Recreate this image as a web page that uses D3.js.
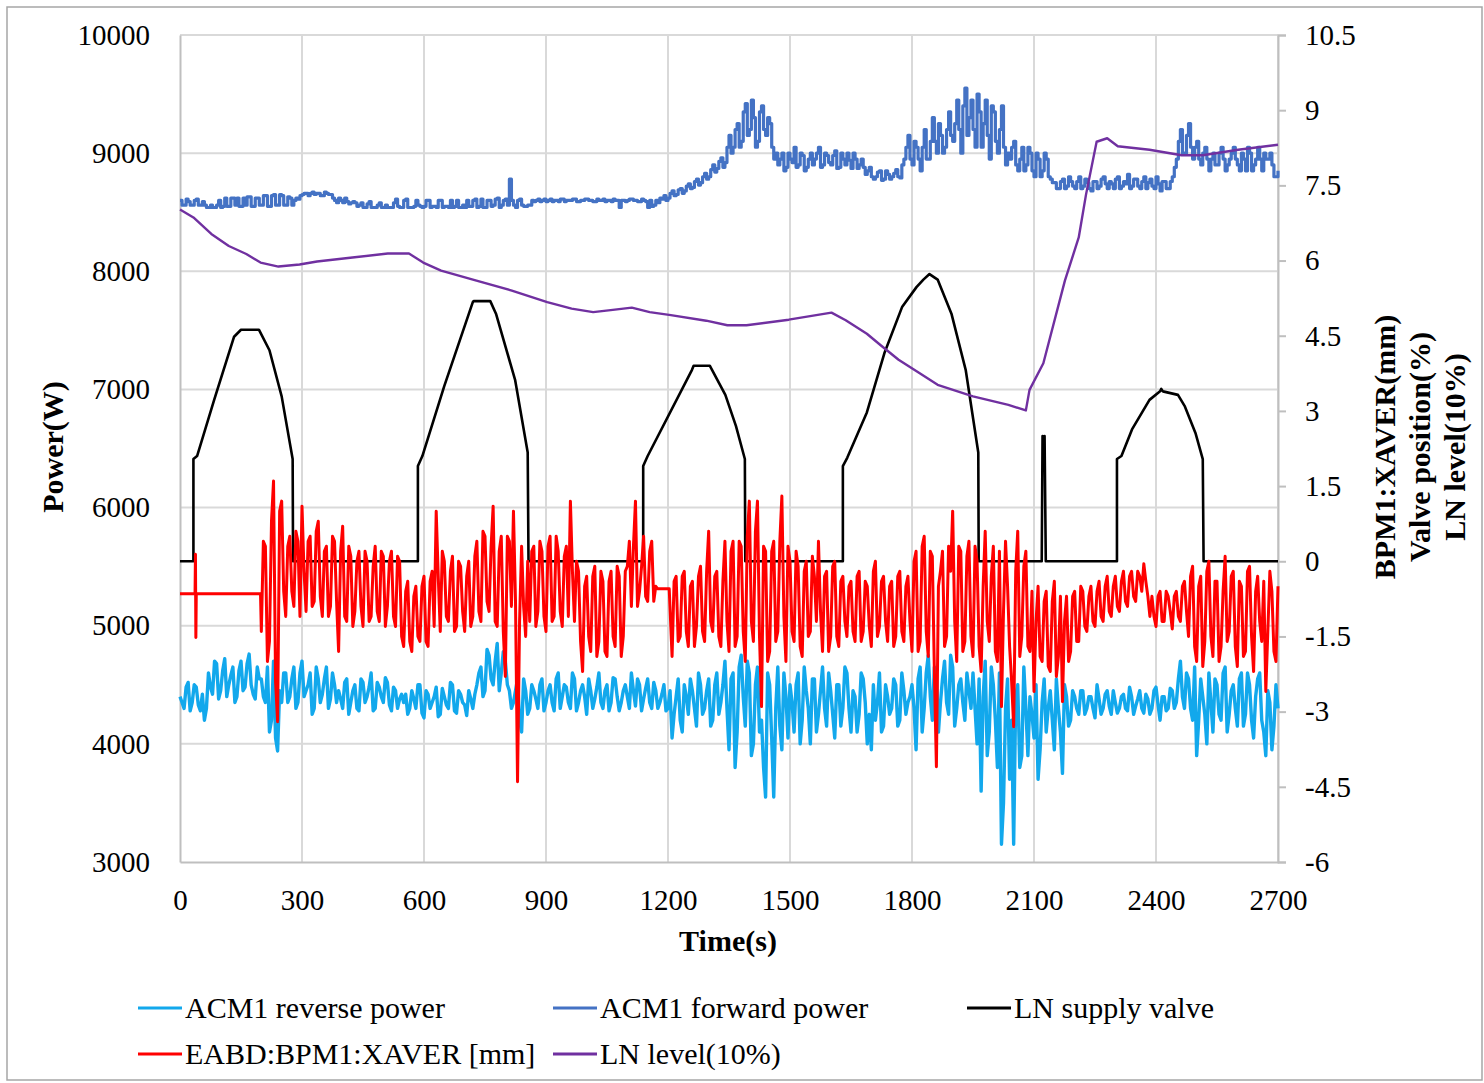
<!DOCTYPE html>
<html>
<head>
<meta charset="utf-8">
<script src="https://cdn.jsdelivr.net/npm/d3@7/dist/d3.min.js"></script>
<style>
  html, body { margin:0; padding:0; background:#fff; }
  svg { display:block; }
  text { font-family: "Liberation Serif", "Times New Roman", serif; fill:#000; }
</style>
</head>
<body>
<svg id="chart" width="1484" height="1083"></svg>
<script>
// ---------------- DATA ----------------
const timeStep = 10; // seconds between samples of each noisy array; "Mid" arrays sit 5 s after them
const xTicks = [0,300,600,900,1200,1500,1800,2100,2400,2700];
const powerTicks = [3000,4000,5000,6000,7000,8000,9000,10000];
const rightTicks = [-6,-4.5,-3,-1.5,0,1.5,3,4.5,6,7.5,9,10.5];

// ACM1 forward power (W), t = 0,10,...,2700 s
const fwdPower = [
  8600,8560,8590,8560,8610,8560,8560,
  8540,8540,8560,8540,
  8620,8550,8620,8620,8550,8560,8630,8550,8620,8560,8640,8550,8650,8560,8640,8560,8620,8600,8610,
  8650,8660,8660,8650,8660,8640,8660,8650,
  8600,8620,8580,8590,8580,8580,8560,
  8540,8570,8540,8540,8580,8540,8540,
  8540,8610,8540,8600,8540,8540,8600,8550,
  8550,8600,8550,8540,8600,8550,8540,8540,8600,8540,
  8540,8550,8600,8540,8610,8540,8600,8560,8620,8560,8610,
  8780,
  8560,8600,8560,8550,8560,
  8590,8610,8600,8590,8610,8600,8590,8610,8600,8600,8610,8590,8600,8610,8600,8590,8600,8610,8600,8590,8600,8540,8600,8600,8610,8600,8590,8600,8540,8550,
  8600,8620,8640,8620,8680,8650,8700,8680,8740,8710,8780,8750,8830,8800,8900,8870,8960,8920,
  9150,9050,9250,9100,9420,9200,9300,9100,9400,9150,9250,8950,
  8900,9000,8880,8950,9050,8900,8980,8880,9000,8950,9050,8900,8980,8900,9020,8880,8950,9000,8870,8950,8900,8880,8850,8800,
  8800,8850,8780,8820,8800,8860,8790,
  8950,9150,8900,9050,8850,9200,8950,9300,9000,9150,9050,9350,9100,9450,9000,9550,9300,9200,9500,9050,9450,8950,9350,9000,9400,8900,
  8950,9100,8850,9050,8900,9000,8800,8950,8850,8950,8780,
  8750,8700,8780,8720,8760,8700,8800,8720,8750,8680,8760,8720,8800,8700,8740,8780,8700,8760,8820,8720,8780,8700,8800,8750,8720,8800,8680,8760,8700,8800,8950,
  9200,9000,9250,8950,9100,8900,9050,8850,9000,8900,9050,8850,8950,9050,8900,9000,8850,9000,8900,9050,8850,8950,9000,8800,8850
];
// ACM1 forward power (W), t = 5,15,...,2695 s
const fwdPowerMid = [
  8560,8610,8560,8600,8560,8590,8540,
  8560,8540,8600,8550,
  8550,8620,8560,8550,8620,8630,8550,8620,8560,8640,8550,8640,8560,8650,8560,8630,8560,8620,8640,
  8660,8640,8670,8660,8640,8670,8650,8620,
  8580,8600,8620,8570,8590,8550,8580,
  8540,8590,8540,8560,8540,8560,8540,
  8580,8550,8540,8610,8540,8550,8560,8540,
  8600,8540,8550,8600,8540,8550,8600,8550,8540,8560,
  8600,8550,8610,8550,8540,8600,8550,8610,8540,8600,8560,
  8600,
  8540,8610,8550,8560,8600,
  8600,8590,8610,8600,8590,8600,8610,8590,8600,8610,8590,8600,8610,8600,8590,8610,8600,8590,8600,8610,8600,8600,8590,8610,8600,8590,8610,8590,8600,8560,
  8580,8610,8600,8660,8640,8690,8660,8720,8700,8760,8730,8800,8780,8860,8840,8930,8880,9050,
  9000,9200,9050,9350,9150,9450,9050,9350,9200,9300,9050,9000,
  8950,8850,9000,8920,8880,9000,8850,8950,8900,9000,8880,9000,8920,8980,8870,9000,8900,8940,9000,8870,8950,8820,8880,8780,
  8840,8770,8850,8780,8830,8800,8900,
  9050,8950,9100,8950,9050,8950,9100,9100,9250,9000,9200,9150,9250,9200,9400,9150,9450,9050,9350,9250,9150,9400,9100,9200,9050,9000,
  9050,8900,8950,8850,9050,8850,9000,8800,9000,8800,8750,
  8700,8760,8700,8800,8720,8760,8700,8780,8700,8760,8700,8780,8740,8760,8700,8800,8720,8740,8700,8780,8720,8760,8700,8780,8700,8740,8760,8700,8760,8880,9100,
  9000,9150,9050,9050,8950,9000,8950,8950,8900,9000,8950,8900,9000,8950,8850,8950,9050,8850,8950,8950,9000,8950,8900,8800
];

// ACM1 reverse power (W), t = 0,10,...,2700 s
const revPower = [
  4400,4300,4520,4350,4480,4280,4200,
  4600,4420,4680,4450,4720,4500,4650,4400,4700,4480,4760,4420,4650,
  4550,4350,4100,4700,3940,4350,
  4600,4400,4650,4350,4700,4450,4600,4300,4550,4420,4650,4380,4500,
  4450,4300,4550,4350,4500,4280,4520,4400,4600,4300,4480,4350,4520,4280,4450,4380,
  4350,4250,4450,4300,4500,4220,4420,4350,4480,4250,4400,4300,4500,4260,4420,4330,4450,4300,
  4500,4650,4450,4750,4500,4850,4600,4700,4450,
  4350,4550,4100,4450,4300,
  4450,4300,4550,4350,4500,4280,4600,4400,4480,4300,4550,4350,4500,4250,4450,4380,4600,4300,4500,4350,4550,4280,4450,4400,4600,4320,4500,4380,4550,4300,4450,4350,4500,
  4300,4050,4400,4200,4500,4250,4450,4150,4500,4300,4550,4200,4600,4350,
  4700,3950,4600,4100,4750,4150,4600,4000,4650,4200,3550,4500,3550,4650,3950,4400,
  4500,4100,4600,4200,4450,4000,4550,4250,4650,4150,4450,4050,4500,4300,4600,4100,4400,4250,4550,4000,3950,4200,4600,4150,4400,4300,4500,4200,4450,4350,
  4500,3950,4650,4300,4750,4200,4600,4350,4700,4250,4650,4300,4550,4200,4450,
  4600,4000,3600,4700,4100,4500,3800,3150,4300,3700,3150,4500,3900,4300,
  4400,4050,3700,4350,4100,4450,3950,4300,3750,4400,4200,
  4400,4250,4450,4300,4400,4220,4380,4300,4450,4250,4350,4300,4420,4280,4400,4320,4450,4260,4380,4300,4480,4200,4400,4300,4450,4350,4700,4300,
  4550,4200,3900,4550,4250,4600,4100,4500,4200,4650,4250,4500,4150,4600,4250,4500,4050,4550,4200,3900,4350,4150,4300
];
// ACM1 reverse power (W), t = 5,15,...,2695 s
const revPowerMid = [
  4350,4480,4280,4500,4330,4420,4300,
  4480,4700,4380,4620,4400,4580,4350,4620,4450,4680,4500,4380,4550,
  4400,4650,4200,4050,4450,4600,
  4350,4550,4300,4600,4400,4500,4250,4650,4350,4550,4300,4600,4350,
  4380,4520,4250,4450,4300,4550,4350,4480,4280,4520,4400,4560,4330,4480,4300,4420,
  4420,4300,4380,4500,4260,4450,4300,4400,4230,4470,4330,4520,4280,4450,4350,4240,4380,4420,
  4600,4400,4800,4550,4700,4450,4780,4500,4300,
  4450,4200,4550,4250,4500,
  4380,4500,4280,4450,4350,4550,4300,4500,4350,4600,4280,4450,4400,4550,4300,4480,4350,4450,4280,4560,4400,4350,4500,4300,4450,4550,4280,4470,4350,4520,4300,4420,4280,
  4450,4250,4550,4100,4400,4550,4300,4600,4250,4450,4150,4500,4250,4500,
  4300,4550,3800,4650,4400,4700,3900,4500,4100,3800,4600,4050,4300,4150,4600,4050,
  4350,4500,4000,4650,4300,4550,4100,4450,4300,4600,4250,4500,4150,4650,4300,4450,4100,4600,4350,4250,4500,4350,4100,4500,4250,4550,4150,4600,4250,4400,
  4300,4550,4100,4600,4400,4650,4100,4550,4350,4750,4150,4500,4350,4600,4300,
  4300,4550,4400,3900,4650,4200,4600,3500,4550,4200,4400,3800,4650,3900,
  4250,4500,3950,4550,4300,4200,4550,4100,4500,4150,4450,
  4300,4450,4250,4400,4300,4500,4250,4420,4320,4450,4260,4400,4300,4480,4250,4380,4300,4420,4250,4450,4330,4400,4280,4470,4300,4550,4400,4600,
  4300,4650,4200,4400,4000,4350,4550,4250,4600,4100,4450,4300,4550,4150,4600,4200,4400,4600,4100,4450,3950,4500
];

// EABD:BPM1:XAVER (mm)
const bpmPre = [[0,-0.65],[37,-0.65],[38,0.14],[39,-1.52],[40,-0.65],[198,-0.65]];
const bpmA = [ // t = 200,210,...,1170 s
  -1.4,0.3,-1.6,1.6,-3.2,1.2,
  -1.1,0.5,-0.9,0.4,1.1,-1.0,0.5,-0.8,0.8,-1.1,0.3,-0.9,0.4,
  -1.8,0.7,-1.2,0.1,-1.0,0.2,-1.3,0.0,-1.1,0.3,-1.2,0.1,-0.9,0.2,-1.3,0.0,
  -1.7,-0.4,-1.8,-0.5,-1.6,-0.3,-1.7,
  -0.2,1.0,-1.4,0.0,-1.2,0.1,-1.3,-0.1,-1.4,0.0,-1.1,
  0.4,-1.2,0.5,-1.0,1.1,-1.3,0.5,-2.3,0.4,1.0,-4.4,0.3,-1.5,
  -1.2,0.3,-1.0,0.2,-1.4,0.5,-1.1,0.2,-1.3,0.3,1.2,-1.2,
  -0.2,-2.2,-0.3,-1.8,-0.1,-1.6,-0.4,-1.9,-0.2,-1.7,-0.3,-1.5,-0.1,
  -0.9,1.2,-0.6,0.5,-0.8,0.4,-0.5
];
const bpmAMid = [ // t = 205,215,...,1165 s
  0.4,-2.0,0.8,-2.4,1.0,-0.6,
  0.3,-0.6,0.6,-1.1,-0.2,0.4,-0.9,0.6,-0.7,0.2,-1.1,0.5,-0.8,
  0.2,-1.1,0.3,-1.3,0.0,-0.9,0.2,-1.2,-0.1,-1.0,0.2,-1.3,0.0,-1.1,0.1,-1.5,
  -0.6,-1.6,-0.7,-1.5,-0.5,-1.6,-0.4,
  -1.3,-0.3,0.2,-1.1,-0.2,-1.4,0.0,-1.0,-0.3,-1.3,0.1,
  -1.0,0.6,-0.8,0.3,-1.2,0.2,-1.4,0.5,-0.9,-0.8,-1.2,-0.9,0.0,
  0.2,-1.3,0.4,-1.1,0.3,-1.2,0.5,-1.0,0.1,-1.1,-0.2,0.0,
  -1.6,-0.5,-1.5,-0.3,-1.9,-0.2,-1.8,-0.4,-1.5,-0.1,-1.9,-0.2,0.4,
  0.3,-0.9,-0.1,-0.7,0.2,-0.8
];
const bpmGap = [[1175,-0.55],[1203,-0.55]];
const bpmB = [ // t = 1210,1220,...,2700 s
  -1.9,-0.3,-1.5,-0.2,-1.7,-0.4,-1.3,-0.1,-1.6,0.6,-1.4,-0.2,-1.7,0.4,
  -1.8,0.4,-1.5,0.3,-2.0,1.2,-1.6,1.2,-2.9,0.2,-1.8,0.4,-1.4,1.3,-2.0,
  0.0,-1.6,-0.1,-1.9,0.0,-1.4,-0.3,0.4,-1.8,-0.2,-1.5,0.0,-1.7,
  -0.3,-1.5,-0.4,-1.6,-0.2,-1.4,-0.5,-1.7,0.0,-1.3,-0.3,-1.6,-0.4,-1.5,-0.2,-1.6,-0.3,
  -1.8,0.2,-1.6,0.5,-1.9,0.1,-4.1,-0.2,-1.7,0.3,1.0,-2.0,0.2,-1.6,0.4,-1.9,0.0,
  -2.2,0.6,-1.6,0.3,-2.0,-2.9,0.4,-1.7,-3.3,0.6,-1.5,0.2,
  -1.8,-2.6,-0.5,-2.0,-0.6,-2.2,-0.4,-1.9,-2.8,-0.7,-1.8,-0.6,-1.6,
  -0.6,-1.4,-0.5,-1.3,-0.4,-1.2,-0.3,-1.1,-0.3,-1.0,-0.2,-0.9,-0.2,-0.8,-0.3,-0.05,-0.7,
  -0.7,-1.3,-0.6,-1.2,-0.7,-1.35,-0.6,-1.2,-0.4,
  -1.5,-0.1,-2.0,-0.3,-1.6,0.0,-1.9,-0.4,-1.7,0.1,-1.4,-0.2,-2.1,-0.5,-1.8,-0.1,-2.2,-0.3,-1.6,-2.6,-0.2,-1.8,-0.5
];
const bpmBMid = [ // t = 1215,1225,...,2695 s
  -0.4,-1.6,-0.3,-1.4,-0.5,-1.7,-0.3,-1.4,-0.2,-1.2,-0.3,-1.5,-0.4,-1.2,
  0.2,-1.7,0.4,-1.4,0.5,-1.2,0.6,-1.5,0.3,-2.0,0.2,-1.6,0.4,-1.1,0.3,
  -1.4,0.2,-1.7,-0.2,-1.5,0.1,-1.2,-1.0,-0.3,-1.8,-0.1,-1.5,-0.4,
  -1.2,-0.5,-1.4,-0.3,-1.6,-0.4,-1.3,-0.2,-1.5,-0.4,-1.2,-0.5,-1.7,-0.3,-1.4,-0.5,-1.2,
  0.0,-1.8,0.3,-1.4,0.2,-2.2,-0.5,0.2,-1.5,-0.2,-1.2,0.3,-1.8,0.1,-1.5,0.3,-1.7,
  -0.5,-1.2,-0.3,-1.8,0.2,-1.0,-0.5,-2.4,-0.2,-1.9,-0.1,-1.7,
  -0.6,-1.2,-1.9,-0.8,-2.1,-0.8,-2.3,-0.7,-1.2,-2.0,-0.7,-1.6,-0.5,
  -1.3,-0.7,-1.2,-0.6,-1.1,-0.5,-1.0,-0.5,-0.9,-0.4,-0.8,-0.3,-0.7,-0.2,-0.6,-0.4,-1.1,
  -1.1,-0.7,-1.2,-0.6,-1.0,-0.7,-1.1,-0.5,-1.0,
  -0.3,-1.7,-0.5,-2.1,-0.2,-1.5,-0.4,-2.0,-0.6,-1.6,-0.3,-1.7,-0.4,-1.9,-0.2,-1.5,-0.6,-1.2,-0.4,-1.4,-0.6,-2.0
];

// LN supply valve [t (s), value]
const valve = [
  [0,0],[33,0],[33,2.04],[42,2.10],[84,3.22],[133,4.48],[150,4.62],[194,4.62],[220,4.21],[250,3.29],[277,2.04],[278,0],
  [585,0],[585,1.90],[596,2.10],[650,3.50],[720,5.17],[722,5.19],[763,5.19],[777,4.94],[824,3.62],[855,2.17],[857,0],
  [1139,0],[1139,1.90],[1150,2.10],[1259,3.82],[1263,3.90],[1303,3.90],[1341,3.32],[1367,2.70],[1389,2.04],[1390,0],
  [1630,0],[1630,1.90],[1641,2.07],[1689,2.97],[1732,4.15],[1776,5.08],[1811,5.47],[1828,5.62],[1843,5.73],[1863,5.62],[1897,4.94],[1932,3.82],[1963,2.17],[1964,0],
  [2119,0],[2121,2.5],[2124,1.9],[2126,2.5],[2129,0],
  [2304,0],[2304,2.04],[2315,2.10],[2341,2.63],[2384,3.22],[2410,3.39],[2413,3.44],[2417,3.39],[2454,3.32],[2471,3.09],[2497,2.56],[2515,2.04],[2517,0],[2700,0]
];

// LN level (10%) [t (s), value]
const lnLevel = [
  [0,7.02],[33,6.86],[77,6.53],[120,6.29],[163,6.13],[198,5.96],[242,5.88],[294,5.92],[337,5.98],[424,6.06],[511,6.14],[563,6.14],
  [598,5.96],[642,5.80],[729,5.60],[816,5.40],[903,5.17],[963,5.04],[1016,4.97],[1059,5.01],[1111,5.06],[1155,4.97],[1207,4.91],
  [1294,4.80],[1346,4.71],[1393,4.71],[1497,4.82],[1602,4.96],[1637,4.81],[1689,4.54],[1723,4.31],[1767,4.02],[1819,3.75],
  [1863,3.52],[1950,3.29],[2037,3.12],[2080,3.01],[2089,3.42],[2123,3.95],[2176,5.60],[2210,6.46],[2228,7.32],[2254,8.37],
  [2280,8.44],[2306,8.28],[2384,8.21],[2463,8.10],[2515,8.10],[2602,8.21],[2700,8.31]
];

const legendItems = [
  {label:"ACM1 reverse power", color:"#12A8EC"},
  {label:"ACM1 forward power", color:"#4472C4"},
  {label:"LN supply valve", color:"#000000"},
  {label:"EABD:BPM1:XAVER [mm]", color:"#FF0000"},
  {label:"LN level(10%)", color:"#7030A0"}
];

// ---------------- CHART ----------------
const svg = d3.select("#chart");
const L = 180, R = 1278, T = 35, B = 862;
const x = d3.scaleLinear().domain([0,2700]).range([L,R]);
const yL = d3.scaleLinear().domain([3000,10000]).range([B,T]);
const yR = d3.scaleLinear().domain([-6,10.5]).range([B,T]);
const gridColor = "#d9d9d9";
const fontFam = '"Liberation Serif", "Times New Roman", serif';

// outer frame
svg.append("rect").attr("x",7).attr("y",7).attr("width",1475).attr("height",1073)
  .attr("fill","none").attr("stroke","#a6a6a6").attr("stroke-width",1.5);

// gridlines
svg.append("g").selectAll("line").data(xTicks.slice(1)).join("line")
  .attr("x1",d=>x(d)).attr("x2",d=>x(d)).attr("y1",T).attr("y2",B)
  .attr("stroke",gridColor).attr("stroke-width",2);
svg.append("g").selectAll("line").data(powerTicks.slice(1)).join("line")
  .attr("x1",L).attr("x2",R).attr("y1",d=>yL(d)).attr("y2",d=>yL(d))
  .attr("stroke",gridColor).attr("stroke-width",2);

// axes
const axL = svg.append("g").attr("transform",`translate(${L},0)`)
  .call(d3.axisLeft(yL).tickValues(powerTicks).tickSize(0).tickPadding(30).tickFormat(d=>String(d)));
const axB = svg.append("g").attr("transform",`translate(0,${B})`)
  .call(d3.axisBottom(x).tickValues(xTicks).tickSize(0).tickPadding(27).tickFormat(d=>String(d)));
const axR = svg.append("g").attr("transform",`translate(${R},0)`)
  .call(d3.axisRight(yR).tickValues(rightTicks).tickSize(8).tickPadding(19).tickFormat(d=>String(d)));
[axL,axB,axR].forEach(g=>{
  g.select(".domain").attr("stroke","#bfbfbf").attr("stroke-width",2);
  g.selectAll(".tick line").attr("stroke","#bfbfbf").attr("stroke-width",2);
  g.selectAll(".tick text").attr("font-family",fontFam).attr("font-size",29).attr("fill","#000");
});

// series: merge each 10 s array with its 5 s-offset companion
const interleave = (main, mid, t0) =>
  main.map((v,i)=>[t0 + i*timeStep, v])
    .concat(mid.map((v,i)=>[t0 + timeStep/2 + i*timeStep, v]))
    .sort((a,b)=>a[0]-b[0]);
const revData = interleave(revPower, revPowerMid, 0);
const fwdData = interleave(fwdPower, fwdPowerMid, 0);
const bpmData = bpmPre.concat(interleave(bpmA, bpmAMid, 200), bpmGap, interleave(bpmB, bpmBMid, 1210));

const lineL = d3.line().x(d=>x(d[0])).y(d=>yL(d[1]));
const stepL = d3.line().x(d=>x(d[0])).y(d=>yL(d[1])).curve(d3.curveStepAfter);
const lineR = d3.line().x(d=>x(d[0])).y(d=>yR(d[1]));
const plot = svg.append("g");
plot.append("path").datum(revData).attr("d",lineL).attr("fill","none")
  .attr("stroke",legendItems[0].color).attr("stroke-width",3.4).attr("stroke-linejoin","round");
plot.append("path").datum(fwdData).attr("d",stepL).attr("fill","none")
  .attr("stroke",legendItems[1].color).attr("stroke-width",3.2).attr("stroke-linejoin","round");
plot.append("path").datum(valve).attr("d",lineR).attr("fill","none")
  .attr("stroke",legendItems[2].color).attr("stroke-width",2.6).attr("stroke-linejoin","round");
plot.append("path").datum(bpmData).attr("d",lineR).attr("fill","none")
  .attr("stroke",legendItems[3].color).attr("stroke-width",3).attr("stroke-linejoin","round");
plot.append("path").datum(lnLevel).attr("d",lineR).attr("fill","none")
  .attr("stroke",legendItems[4].color).attr("stroke-width",2.4).attr("stroke-linejoin","round");

// axis titles
svg.append("text").attr("transform","translate(63,447) rotate(-90)").attr("text-anchor","middle")
  .attr("font-size",30).attr("font-weight","bold").text("Power(W)");
svg.append("text").attr("x",728).attr("y",951).attr("text-anchor","middle")
  .attr("font-size",30).attr("font-weight","bold").text("Time(s)");
const rTitles = ["BPM1:XAVER(mm)","Valve position(%)","LN level(10%)"];
svg.append("g").selectAll("text").data(rTitles).join("text")
  .attr("transform",(d,i)=>`translate(${1395+i*35},447) rotate(-90)`)
  .attr("text-anchor","middle").attr("font-size",30).attr("font-weight","bold").text(d=>d);

// legend
const legPos = [[138,1008],[553,1008],[967,1008],[138,1054],[553,1054]];
const leg = svg.append("g").selectAll("g").data(legendItems).join("g")
  .attr("transform",(d,i)=>`translate(${legPos[i][0]},${legPos[i][1]})`);
leg.append("line").attr("x1",0).attr("x2",44).attr("y1",0).attr("y2",0)
  .attr("stroke",d=>d.color).attr("stroke-width",3);
leg.append("text").attr("x",47).attr("y",10).attr("font-size",30).text(d=>d.label);
</script>
</body>
</html>
